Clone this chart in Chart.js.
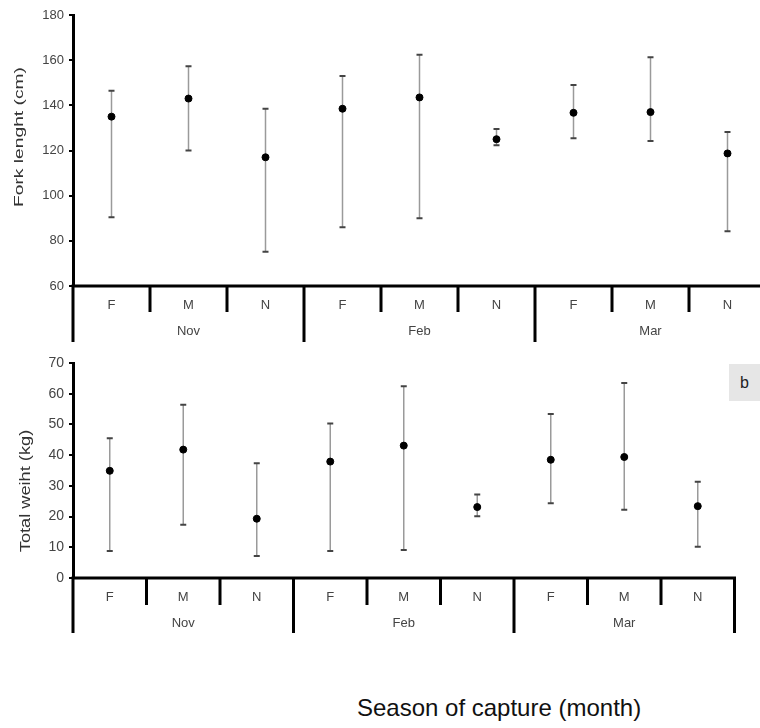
<!DOCTYPE html>
<html><head><meta charset="utf-8">
<script src="https://cdn.jsdelivr.net/npm/chart.js@4.4.0/dist/chart.umd.min.js"></script>
<style>
html,body{margin:0;padding:0;background:#fff;width:760px;height:728px;overflow:hidden;position:relative;font-family:"Liberation Sans",Arial,sans-serif;}
canvas{position:absolute;left:0;}
#top{top:0}
#bottom{top:340px}
#tag{position:absolute;left:729px;top:364px;width:31px;height:37px;background:#e6e6e6;font-size:16px;line-height:37px;text-align:center;color:#222}
#xtitle{position:absolute;left:357px;top:694px;font-size:24px;color:#111;white-space:nowrap}
</style></head><body>
<canvas id="top" width="800" height="350"></canvas>
<canvas id="bottom" width="800" height="300"></canvas>
<div id="tag">b</div>
<div id="xtitle">Season of capture (month)</div>
<script>
const months = ['Nov', 'Feb', 'Mar'];
const groups = ['F', 'M', 'N'];
const forkMean = [135, 143, 117, 138.5, 143.5, 125, 136.7, 137, 118.7];
const forkLow = [90.4, 120, 75.2, 86, 90, 122.3, 125.4, 124.2, 84.2];
const forkHigh = [146.5, 157.3, 138.5, 153, 162.4, 129.5, 149, 161.3, 128.2];
const weightMean = [34.9, 41.8, 19.3, 37.9, 43.1, 23.1, 38.5, 39.4, 23.4];
const weightLow = [8.8, 17.3, 7.2, 8.8, 9.1, 20.1, 24.3, 22.2, 10.2];
const weightHigh = [45.5, 56.4, 37.4, 50.3, 62.4, 27.2, 53.4, 63.5, 31.3];

const FONT = '"Liberation Sans", Arial, sans-serif';

// error bars drawn under the points
const errorBars = {
  id: 'errorBars',
  beforeDatasetsDraw(chart, args, opts) {
    const { ctx } = chart;
    const y = chart.scales.y;
    const pts = chart.getDatasetMeta(0).data;
    ctx.save();
    pts.forEach((p, i) => {
      const yl = y.getPixelForValue(opts.low[i]);
      const yh = y.getPixelForValue(opts.high[i]);
      ctx.strokeStyle = '#9a9a9a';
      ctx.lineWidth = 1.5;
      ctx.beginPath(); ctx.moveTo(p.x, yl); ctx.lineTo(p.x, yh); ctx.stroke();
      ctx.strokeStyle = '#444';
      ctx.lineWidth = 2;
      ctx.beginPath();
      ctx.moveTo(p.x - 3, yl); ctx.lineTo(p.x + 3, yl);
      ctx.moveTo(p.x - 3, yh); ctx.lineTo(p.x + 3, yh);
      ctx.stroke();
    });
    ctx.restore();
  }
};

// grouped category axis + rotated y title
const groupAxis = {
  id: 'groupAxis',
  afterDraw(chart, args, o) {
    const { ctx, chartArea } = chart;
    const x = chart.scales.x;
    const b = chartArea.bottom;
    ctx.save();
    ctx.strokeStyle = '#000';
    ctx.lineWidth = 3;
    ctx.beginPath();
    ctx.moveTo(chartArea.left - 1.5, b);
    ctx.lineTo(chartArea.right + 1.5, b);
    for (let i = 0; i <= 9; i++) {
      const px = x.getPixelForValue(i);
      ctx.moveTo(px, b);
      ctx.lineTo(px, i % 3 === 0 ? o.longEnd : o.shortEnd);
    }
    ctx.stroke();
    ctx.fillStyle = '#444';
    ctx.textAlign = 'center';
    ctx.textBaseline = 'middle';
    ctx.font = o.fontSize + 'px ' + FONT;
    for (let i = 0; i < 9; i++) {
      ctx.fillText(groups[i % 3], x.getPixelForValue(i + 0.5), o.catY);
    }
    months.forEach((m, k) => ctx.fillText(m, x.getPixelForValue(k * 3 + 1.5), o.monthY));
    // the source figure is stretched vertically, so the rotated title is too
    ctx.translate(o.titleX, o.titleY);
    ctx.rotate(-Math.PI / 2);
    ctx.scale(o.titleStretch, 1);
    ctx.fillStyle = '#333';
    ctx.font = o.titleSize + 'px ' + FONT;
    ctx.fillText(o.title, 0, 0);
    ctx.restore();
  }
};

function makeChart(id, means, low, high, yMin, yMax, step, pad, axisOpts, tickSize) {
  return new Chart(document.getElementById(id), {
    type: 'scatter',
    data: { datasets: [{ data: means.map((v, i) => ({ x: i + 0.5, y: v })), backgroundColor: '#000', borderColor: '#000', pointRadius: 3.5 }] },
    options: {
      responsive: false,
      animation: false,
      devicePixelRatio: 1,
      layout: { padding: pad },
      plugins: {
        legend: { display: false },
        tooltip: { enabled: false },
        errorBars: { low, high },
        groupAxis: axisOpts,
      },
      scales: {
        x: { type: 'linear', min: 0, max: 9, display: false },
        y: {
          min: yMin, max: yMax,
          afterFit(s) { s.width = 73; },
          border: { display: true, color: '#000', width: 3 },
          grid: { drawOnChartArea: false, drawTicks: true, tickLength: 4, color: '#000', lineWidth: 2 },
          ticks: { stepSize: step, color: '#444', padding: 5, font: { family: FONT, size: tickSize } },
        },
      },
    },
    plugins: [errorBars, groupAxis],
  });
}

makeChart('top', forkMean, forkLow, forkHigh, 60, 180, 20,
  { top: 15, right: 34, bottom: 64, left: 0 },
  { shortEnd: 312, longEnd: 342, catY: 305, monthY: 331, fontSize: 13, title: 'Fork lenght (cm)', titleX: 19, titleY: 137, titleSize: 13, titleStretch: 1.48 }, 13);

makeChart('bottom', weightMean, weightLow, weightHigh, 0, 70, 10,
  { top: 23, right: 65.5, bottom: 62, left: 0 },
  { shortEnd: 265, longEnd: 293, catY: 257, monthY: 283, fontSize: 13, title: 'Total weiht (kg)', titleX: 26.5, titleY: 151, titleSize: 14, titleStretch: 1.3 }, 14);
</script>
</body></html>
